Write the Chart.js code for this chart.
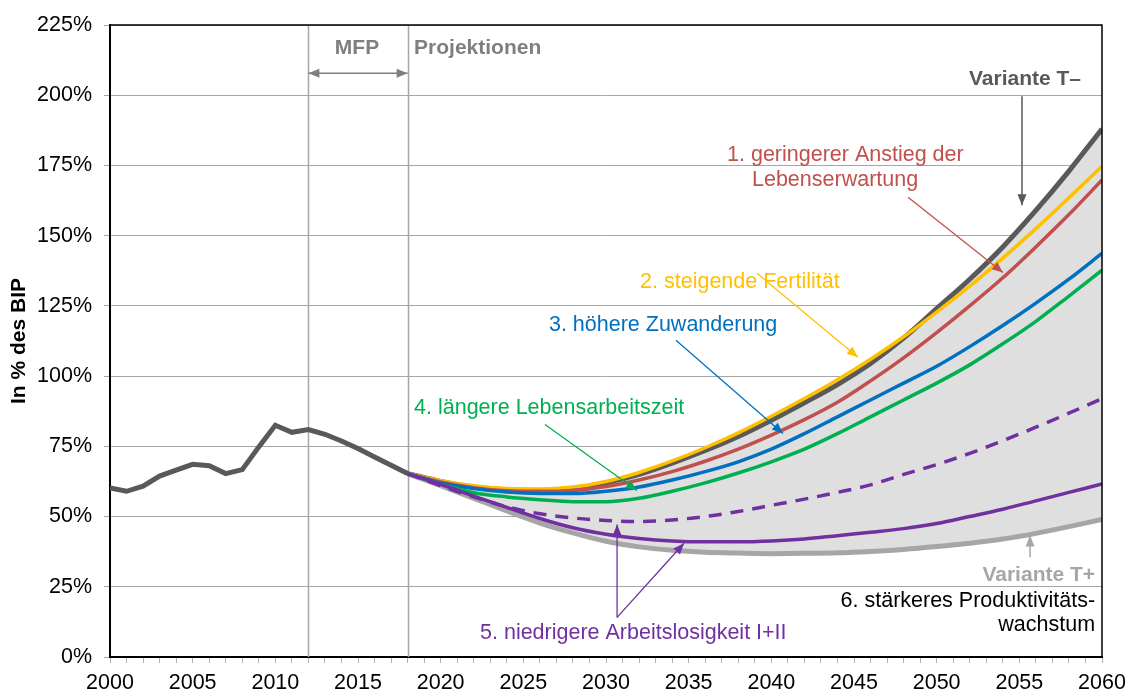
<!DOCTYPE html>
<html>
<head>
<meta charset="utf-8">
<script src="https://cdn.jsdelivr.net/npm/chart.js@4.4.1/dist/chart.umd.min.js"></script>
<style>
  html, body { margin: 0; padding: 0; background: #fff; }
</style>
</head>
<body>
<canvas id="chart" width="1129" height="693"></canvas>
<script>
// Schuldenquote in % des BIP: Ist-Werte und Projektionen
const histYears = [2000, 2001, 2002, 2003, 2004, 2005, 2006, 2007, 2008, 2009,
                   2010, 2011, 2012, 2013, 2014, 2015, 2016, 2017, 2018];
const histDebt  = [60.2, 59.0, 60.8, 64.4, 66.5, 68.6, 68.1, 65.3, 66.7, 74.8,
                   82.5, 80.0, 81.0, 79.3, 76.9, 74.2, 71.2, 68.3, 65.3];

const projYears = [2018, 2020, 2022, 2024, 2026, 2028, 2030, 2032, 2034, 2036, 2038,
                   2040, 2042, 2044, 2046, 2048, 2050, 2052, 2054, 2056, 2058, 2060];
const varTminus    = [65.3, 62.5, 60.5, 59.5, 59.3, 60.0, 62.0, 65.0, 69.0, 73.5, 78.5,
                      84.3, 90.5, 97.0, 104.5, 113.5, 124.0, 134.5, 146.0, 159.0, 173.0, 188.0];
const lebenserw    = [65.3, 62.3, 60.3, 59.2, 59.0, 59.3, 60.7, 63.0, 66.0, 69.7, 74.0,
                      79.0, 84.5, 90.7, 98.3, 106.5, 115.5, 125.0, 135.0, 146.0, 157.5, 169.8];
const fertilitaet  = [65.3, 62.8, 61.0, 60.0, 59.8, 60.5, 62.5, 65.7, 69.8, 74.5, 79.8,
                      85.7, 92.0, 98.7, 106.0, 114.0, 122.8, 132.0, 142.0, 152.5, 163.5, 174.7];
const zuwanderung  = [65.3, 62.0, 60.0, 58.7, 58.2, 58.2, 59.0, 60.5, 63.0, 66.0, 69.5,
                      74.0, 79.5, 85.5, 91.5, 97.5, 103.5, 110.5, 118.0, 126.0, 134.5, 143.7];
const arbeitszeit  = [65.3, 61.5, 58.5, 57.0, 56.0, 55.3, 55.3, 56.5, 59.0, 62.0, 65.5,
                      69.5, 74.0, 79.5, 85.5, 91.5, 97.5, 104.0, 111.5, 119.5, 128.5, 137.7];
const arbeitslosI  = [65.3, 61.0, 57.0, 53.5, 51.0, 49.5, 48.6, 48.2, 48.8, 50.0, 51.8,
                      54.0, 56.2, 58.6, 61.3, 65.0, 68.5, 72.5, 77.0, 81.8, 86.8, 92.0];
const arbeitslosII = [65.3, 61.5, 57.3, 53.3, 49.3, 46.0, 43.7, 42.2, 41.3, 41.0, 41.0,
                      41.3, 42.0, 43.2, 44.4, 45.7, 47.5, 50.0, 52.6, 55.6, 58.6, 61.6];
const varTplus     = [65.3, 61.0, 56.5, 52.0, 47.7, 44.2, 41.2, 39.2, 38.0, 37.3, 37.0,
                      36.8, 36.9, 37.1, 37.6, 38.3, 39.3, 40.5, 42.0, 44.0, 46.4, 49.0];

const yTicks = [0, 25, 50, 75, 100, 125, 150, 175, 200, 225];
const markerYears = [2012, 2018];

const FONT = "'Liberation Sans', Arial, sans-serif";

function pts(xs, ys) {
  return xs.map((x, i) => ({ x: x, y: ys[i] }));
}

function projLine(label, values, color, width, dash) {
  return {
    label: label,
    data: pts(projYears, values),
    borderColor: color,
    borderWidth: width,
    borderDash: dash || [],
    pointRadius: 0,
    cubicInterpolationMode: 'monotone',
    fill: false
  };
}

// text labels and arrows, placed in axis units (year, percent)
const notes = [
  { text: 'MFP', x: 2014.94, y: 216.6, align: 'center', color: '#7f7f7f', bold: true, size: 21 },
  { text: 'Projektionen', x: 2018.39, y: 216.6, align: 'left', color: '#7f7f7f', bold: true, size: 21 },
  { text: 'Variante T\u2013', x: 2058.73, y: 205.7, align: 'right', color: '#595959', bold: true, size: 21 },
  { text: '1. geringerer Anstieg der', x: 2037.32, y: 178.6, align: 'left', color: '#c0504d', size: 21.5 },
  { text: 'Lebenserwartung', x: 2038.83, y: 169.7, align: 'left', color: '#c0504d', size: 21.5 },
  { text: '2. steigende Fertilit\u00e4t', x: 2032.06, y: 133.3, align: 'left', color: '#ffc000', size: 21.5 },
  { text: '3. h\u00f6here Zuwanderung', x: 2026.55, y: 118.1, align: 'left', color: '#0070c0', size: 21.5 },
  { text: '4. l\u00e4ngere Lebensarbeitszeit', x: 2018.39, y: 88.5, align: 'left', color: '#00b050', size: 21.5 },
  { text: '5. niedrigere Arbeitslosigkeit I+II', x: 2022.38, y: 8.4, align: 'left', color: '#7030a0', size: 21.5 },
  { text: 'Variante T+', x: 2059.58, y: 29.1, align: 'right', color: '#a6a6a6', bold: true, size: 21 },
  { text: '6. st\u00e4rkeres Produktivit\u00e4ts-', x: 2059.58, y: 19.8, align: 'right', color: '#000', size: 21.5 },
  { text: 'wachstum', x: 2059.58, y: 11.3, align: 'right', color: '#000', size: 21.5 }
];

const arrows = [
  { from: [2012, 207.8], to: [2018, 207.8], color: '#7f7f7f', width: 1.5, both: true },
  { from: [2055.16, 199.6], to: [2055.16, 160.8], color: '#595959', width: 1.5 },
  { from: [2048.27, 163.7], to: [2054.01, 136.9], color: '#c0504d', width: 1.3 },
  { from: [2039.13, 136.6], to: [2045.24, 106.7], color: '#ffc000', width: 1.3 },
  { from: [2034.23, 112.8], to: [2040.71, 79.6], color: '#0070c0', width: 1.3 },
  { from: [2026.31, 82.8], to: [2031.87, 59.3], color: '#00b050', width: 1.3 },
  { from: [2030.67, 14.1], to: [2030.67, 47.2], color: '#7030a0', width: 1.3 },
  { from: [2030.67, 14.1], to: [2034.72, 40.5], color: '#7030a0', width: 1.3 },
  { from: [2055.65, 35.5], to: [2055.65, 43.3], color: '#a6a6a6', width: 1.5 }
];

function head(ctx, x1, y1, x2, y2, len, half) {
  const a = Math.atan2(y2 - y1, x2 - x1);
  ctx.beginPath();
  ctx.moveTo(x2, y2);
  ctx.lineTo(x2 - len * Math.cos(a) + half * Math.sin(a), y2 - len * Math.sin(a) - half * Math.cos(a));
  ctx.lineTo(x2 - len * Math.cos(a) - half * Math.sin(a), y2 - len * Math.sin(a) + half * Math.cos(a));
  ctx.closePath();
  ctx.fill();
}

const framePlugin = {
  id: 'frame',
  beforeDatasetsDraw(chart) {
    const { ctx, chartArea: a, scales } = chart;
    ctx.save();
    ctx.strokeStyle = '#a6a6a6';
    ctx.lineWidth = 1.5;
    markerYears.forEach(yr => {
      const x = Math.round(scales.x.getPixelForValue(yr)) + 0.5;
      ctx.beginPath();
      ctx.moveTo(x, a.top);
      ctx.lineTo(x, a.bottom);
      ctx.stroke();
    });
    ctx.restore();
  },
  afterDatasetsDraw(chart) {
    const { ctx, chartArea: a, scales } = chart;
    const sx = v => scales.x.getPixelForValue(v);
    const sy = v => scales.y.getPixelForValue(v);
    ctx.save();
    // top and right frame
    ctx.strokeStyle = '#000';
    ctx.lineWidth = 1.5;
    ctx.beginPath();
    ctx.moveTo(a.left, a.top);
    ctx.lineTo(a.right, a.top);
    ctx.lineTo(a.right, a.bottom);
    ctx.stroke();

    arrows.forEach(ar => {
      const x1 = sx(ar.from[0]), y1 = sy(ar.from[1]);
      const x2 = sx(ar.to[0]), y2 = sy(ar.to[1]);
      ctx.strokeStyle = ar.color;
      ctx.fillStyle = ar.color;
      ctx.lineWidth = ar.width;
      ctx.beginPath();
      ctx.moveTo(x1, y1);
      ctx.lineTo(x2, y2);
      ctx.stroke();
      head(ctx, x1, y1, x2, y2, 11, 4.5);
      if (ar.both) head(ctx, x2, y2, x1, y1, 11, 4.5);
    });

    ctx.textBaseline = 'middle';
    notes.forEach(n => {
      ctx.font = (n.bold ? 'bold ' : '') + n.size + 'px ' + FONT;
      ctx.fillStyle = n.color;
      ctx.textAlign = n.align;
      ctx.fillText(n.text, sx(n.x), sy(n.y));
    });
    ctx.restore();
  }
};

new Chart(document.getElementById('chart'), {
  type: 'line',
  data: {
    datasets: [
      {
        label: 'Ist',
        data: pts(histYears, histDebt),
        borderColor: '#595959',
        borderWidth: 5,
        pointRadius: 0,
        tension: 0,
        fill: false
      },
      projLine('5. Arbeitslosigkeit II', arbeitslosII, '#7030a0', 3.5),
      projLine('5. Arbeitslosigkeit I', arbeitslosI, '#7030a0', 3.5, [13, 9]),
      projLine('4. Lebensarbeitszeit', arbeitszeit, '#00b050', 3.5),
      projLine('3. Zuwanderung', zuwanderung, '#0070c0', 3.5),
      projLine('1. Lebenserwartung', lebenserw, '#c0504d', 3.5),
      projLine('2. Fertilität', fertilitaet, '#ffc000', 3.5),
      projLine('Variante T-', varTminus, '#595959', 5),
      Object.assign(projLine('Variante T+', varTplus, '#a6a6a6', 5), {
        fill: { target: 7, above: '#dfdfdf', below: '#dfdfdf' }
      })
    ]
  },
  options: {
    responsive: false,
    animation: false,
    layout: { padding: { left: 0, top: 25, right: 27, bottom: 0 } },
    plugins: {
      legend: { display: false },
      tooltip: { enabled: false },
      filler: { drawTime: 'beforeDatasetsDraw' }
    },
    scales: {
      x: {
        type: 'linear',
        min: 2000,
        max: 2060,
        afterFit: s => { s.height = 36; s.paddingLeft = 0; s.paddingRight = 0; },
        border: { color: '#000', width: 2 },
        grid: { drawOnChartArea: false, tickLength: 6, color: '#b0b0b0' },
        ticks: {
          stepSize: 1,
          autoSkip: false,
          maxRotation: 0,
          padding: 7,
          color: '#000',
          font: { family: FONT, size: 21.5 },
          callback: v => (v % 5 === 0 ? String(v) : '')
        }
      },
      y: {
        min: 0,
        max: 225,
        afterFit: s => { s.width = 110; s.paddingTop = 0; s.paddingBottom = 0; },
        afterBuildTicks: s => { s.ticks = yTicks.map(v => ({ value: v })); },
        border: { color: '#000', width: 2 },
        grid: { color: '#a6a6a6', lineWidth: 1, tickLength: 6 },
        title: {
          display: true,
          text: 'In % des BIP',
          color: '#000',
          font: { family: FONT, size: 21, weight: 'bold' },
          padding: { top: 7, bottom: 0 }
        },
        ticks: {
          stepSize: 25,
          padding: 12,
          color: '#000',
          font: { family: FONT, size: 21.5 },
          callback: v => v + '%'
        }
      }
    }
  },
  plugins: [framePlugin]
});
</script>
</body>
</html>
